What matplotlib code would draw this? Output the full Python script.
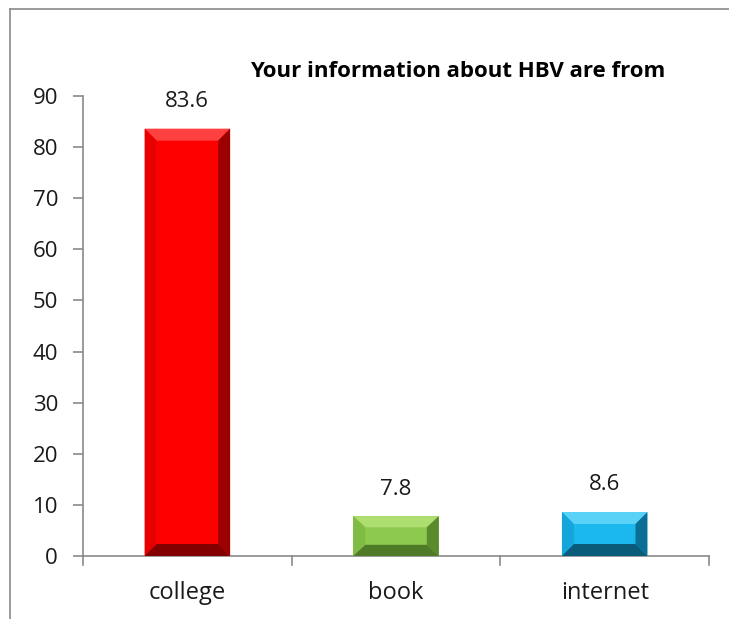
import matplotlib
matplotlib.use("Agg")
import matplotlib.pyplot as plt
from matplotlib.patches import Polygon
from matplotlib.lines import Line2D

categories = ["college", "book", "internet"]
values = [83.6, 7.8, 8.6]
yticks = [0, 10, 20, 30, 40, 50, 60, 70, 80, 90]
title = "Your information about HBV are from"

# face, top bevel, left bevel, right bevel, bottom bevel
palettes = [
    ("#ff0000", "#ff4040", "#e80000", "#9c0000", "#820000"),
    ("#8ec94f", "#aedd70", "#80bb44", "#5b8a2d", "#4f7a28"),
    ("#1ab8ee", "#5ad2f8", "#14a6da", "#0b6f95", "#0a5b7a"),
]

plt.rcParams["font.family"] = ["Open Sans", "DejaVu Sans"]
TEXT = "#1a1a1a"
GRID = "#8a8a8a"

fig = plt.figure(figsize=(7.29, 6.19), dpi=100)
ax = fig.add_axes([0.1139, 0.1018, 0.8587, 0.7432])

x = list(range(len(categories)))
bars = ax.bar(x, values, width=0.41, color=[p[0] for p in palettes],
              edgecolor="none", zorder=2)

ax.set_xlim(-0.5, len(categories) - 0.5)
ax.set_ylim(0, 90)

# bevelled faces on every bar, sized in screen pixels
fig.canvas.draw()
inv = ax.transData.inverted()
for bar, pal in zip(bars, palettes):
    x0, y0 = bar.get_x(), bar.get_y()
    x1, y1 = x0 + bar.get_width(), y0 + bar.get_height()
    (px0, py0) = ax.transData.transform((x0, y0))
    (px1, py1) = ax.transData.transform((x1, y1))
    b = min(12, (py1 - py0) * 0.28)
    bx = 12

    def d(px, py):
        return inv.transform((px, py))

    o = [d(px0, py0), d(px1, py0), d(px1, py1), d(px0, py1)]
    i = [d(px0 + bx, py0 + b), d(px1 - bx, py0 + b),
         d(px1 - bx, py1 - b), d(px0 + bx, py1 - b)]
    faces = [
        ([o[3], o[2], i[2], i[3]], pal[1]),
        ([o[0], o[3], i[3], i[0]], pal[2]),
        ([o[1], o[2], i[2], i[1]], pal[3]),
        ([o[0], o[1], i[1], i[0]], pal[4]),
    ]
    for pts, c in faces:
        ax.add_patch(Polygon(pts, closed=True, facecolor=c,
                             edgecolor="none", zorder=3))

for xi, v in zip(x, values):
    ax.annotate(f"{v}", (xi, v), xytext=(0, 19.5), textcoords="offset points",
                ha="center", va="center", fontsize=16, color=TEXT)

ax.set_yticks(yticks)
ax.set_yticklabels([str(t) for t in yticks], fontsize=16, color=TEXT)
ax.set_xticks(x)
ax.set_xticklabels(categories, fontsize=17, color=TEXT)
ax.tick_params(axis="x", length=0, pad=18)
ax.tick_params(axis="y", length=7, width=1.2, color=GRID, pad=11)

# category separators below the x axis
for xb in [-0.5 + k for k in range(len(categories) + 1)]:
    ax.plot([xb, xb], [0, -1.8], color=GRID, lw=1.2,
            clip_on=False, zorder=4)

for s in ["top", "right"]:
    ax.spines[s].set_visible(False)
for s in ["left", "bottom"]:
    ax.spines[s].set_color(GRID)
    ax.spines[s].set_linewidth(1.2)

fig.text(0.628, 0.885, title, ha="center", va="center",
         fontsize=16, fontweight="bold", color="#000000")

# chart area frame
fig.add_artist(Line2D([0.0137, 1.0], [0.9855, 0.9855], color=GRID,
                      lw=1.2, transform=fig.transFigure))
fig.add_artist(Line2D([0.0137, 0.0137], [0.0, 0.9855], color=GRID,
                      lw=1.2, transform=fig.transFigure))

fig.savefig("out.png", dpi=100, facecolor="white")
